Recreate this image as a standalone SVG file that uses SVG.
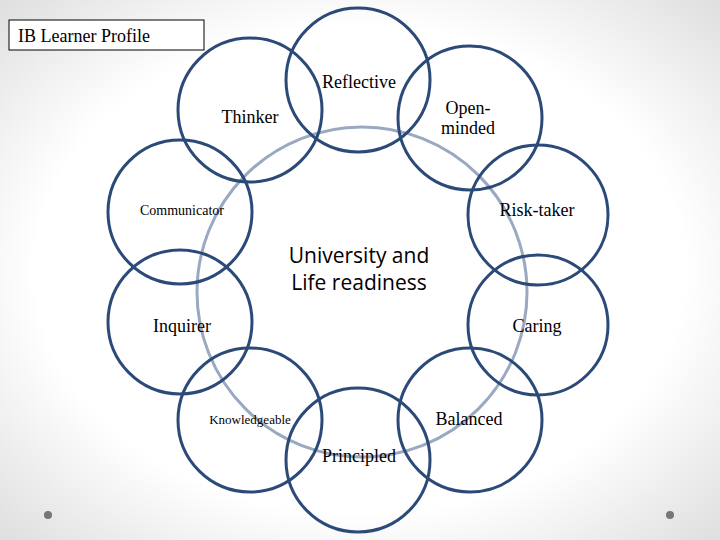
<svg xmlns="http://www.w3.org/2000/svg" width="720" height="540" viewBox="0 0 720 540">
<defs>
<radialGradient id="bg" cx="50%" cy="50%" r="75%">
<stop offset="0.6" stop-color="#ffffff"/><stop offset="1" stop-color="#d9d9d9"/>
</radialGradient>
<style>
.c{fill:none;stroke:#2c4a78;stroke-width:3}
.big{fill:none;stroke:#9aa9c2;stroke-width:3}
.t{font-family:"Liberation Serif",serif;fill:#000}
.s{font-family:"Open Sans",sans-serif;fill:#000}
</style>
</defs>
<rect width="720" height="540" fill="url(#bg)"/>
<g id="hub"><circle class="big" cx="362" cy="292" r="165"/>
<text class="s" x="359" y="263" text-anchor="middle" font-size="21">University and</text>
<text class="s" x="359" y="290" text-anchor="middle" font-size="21">Life readiness</text></g>
<g id="reflective"><circle class="c" cx="358" cy="80" r="72"/><text class="t" x="359" y="88" text-anchor="middle" font-size="18">Reflective</text></g>
<g id="openminded"><circle class="c" cx="470" cy="118" r="72"/><text class="t" x="468" y="114" text-anchor="middle" font-size="18">Open-</text><text class="t" x="468" y="134" text-anchor="middle" font-size="18">minded</text></g>
<g id="thinker"><circle class="c" cx="250" cy="110" r="72"/><text class="t" x="250" y="123" text-anchor="middle" font-size="18">Thinker</text></g>
<g id="communicator"><circle class="c" cx="180" cy="212" r="72"/><text class="t" x="182" y="215" text-anchor="middle" font-size="14">Communicator</text></g>
<g id="risktaker"><circle class="c" cx="538" cy="215" r="70"/><text class="t" x="537" y="216" text-anchor="middle" font-size="18">Risk-taker</text></g>
<g id="inquirer"><circle class="c" cx="180" cy="322" r="72"/><text class="t" x="182" y="332" text-anchor="middle" font-size="18">Inquirer</text></g>
<g id="caring"><circle class="c" cx="538" cy="325" r="70"/><text class="t" x="537" y="332" text-anchor="middle" font-size="18">Caring</text></g>
<g id="knowledgeable"><circle class="c" cx="250" cy="420" r="72"/><text class="t" x="250" y="424" text-anchor="middle" font-size="13">Knowledgeable</text></g>
<g id="balanced"><circle class="c" cx="470" cy="420" r="72"/><text class="t" x="469" y="425" text-anchor="middle" font-size="18">Balanced</text></g>
<g id="principled"><circle class="c" cx="358" cy="460" r="72"/><text class="t" x="359" y="462" text-anchor="middle" font-size="18">Principled</text></g>
<g id="title"><rect x="9" y="20" width="195" height="30" fill="#fff" stroke="#000" stroke-width="1"/><text class="t" x="18" y="42" font-size="18">IB  Learner Profile</text></g>
<g id="connectors"></g>
<circle cx="48" cy="515" r="4" fill="#777"/><circle cx="670" cy="515" r="4" fill="#777"/>
</svg>
